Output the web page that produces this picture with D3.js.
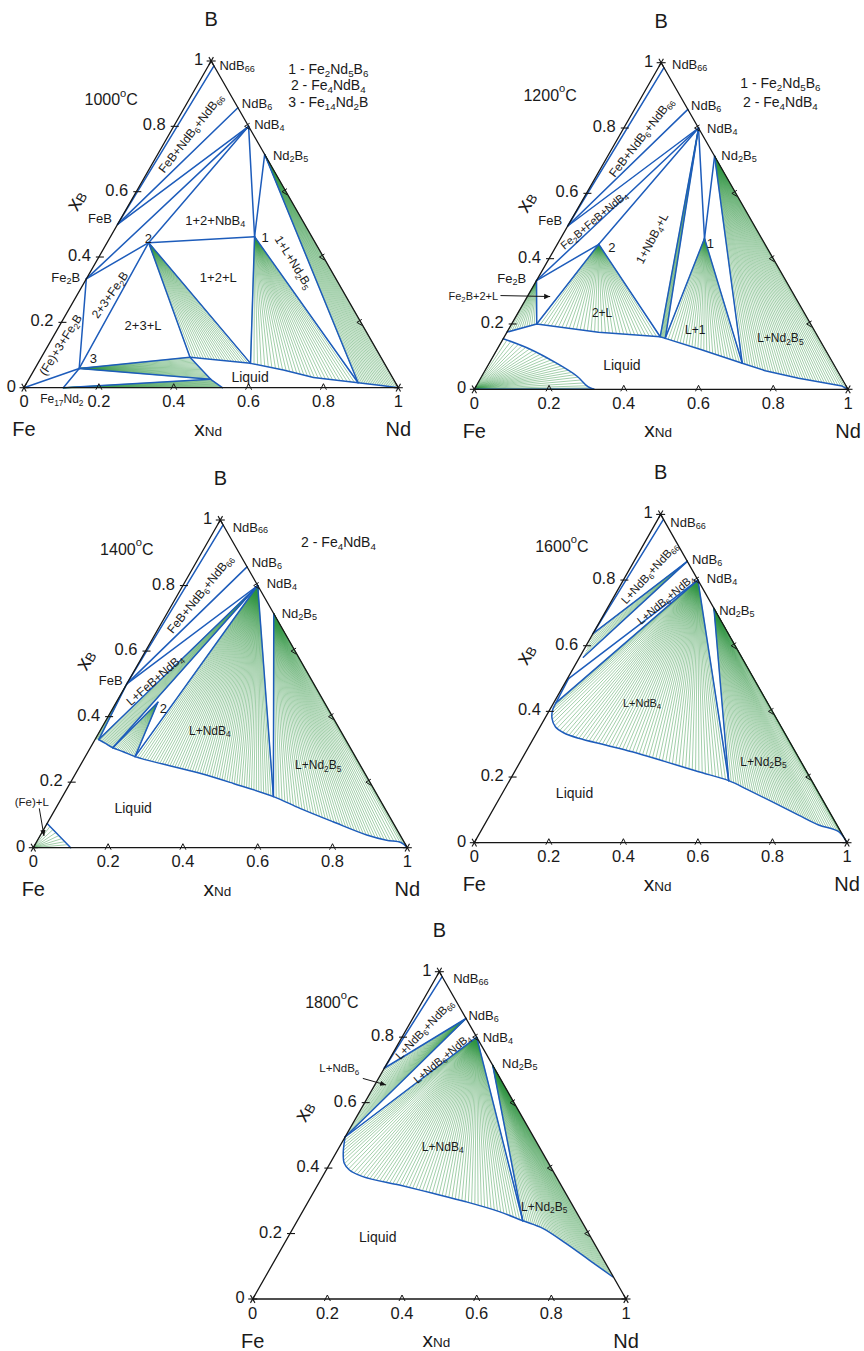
<!DOCTYPE html>
<html>
<head>
<meta charset="utf-8">
<title>Fe–Nd–B isothermal sections</title>
<script src="https://cdn.jsdelivr.net/npm/d3@7/dist/d3.min.js"></script>
<style>
  html, body { margin: 0; background: #fff; }
  svg { display: block; }
  text { font-family: "Liberation Sans", Arial, Helvetica, sans-serif; fill: #1a1a1a; }
</style>
</head>
<body>
<svg id="chart" width="864" height="1351"></svg>
<script>
// Compositions are [x_Nd, x_B]; x_Fe = 1 - x_Nd - x_B.
const compounds = {
  B: [0, 1], Fe: [0, 0], Nd: [1, 0],
  NdB66: [0.015, 0.985], NdB6: [0.143, 0.857], NdB4: [0.2, 0.8], Nd2B5: [0.286, 0.714],
  FeB: [0, 0.5], Fe2B: [0, 0.333], Fe17Nd2: [0.105, 0],
  T1: [0.385, 0.462],   // Fe2Nd5B6
  T2: [0.111, 0.444],   // Fe4NdB4
  T3: [0.118, 0.059]    // Fe14Nd2B
};
const axisTicks = [0, 0.2, 0.4, 0.6, 0.8, 1];
const axisTickLabels = ["0", "0.2", "0.4", "0.6", "0.8", "1"];

// ---------- 1000 °C ----------
const liquid1000 = { La: [0.397, 0.093], Lb: [0.568, 0.0745], Lc: [0.885, 0.0153], Ld: [0.486, 0.0256], Le: [0.53, 0] };
const curves1000 = {
  upper: ["La", "Lb", [0.666, 0.054], [0.758, 0.031], "Lc", [0.957, 0.006], "Nd"],
  lower: ["La", "Ld", "Le"]
};
const boundaries1000 = [
  ["NdB66", "FeB"], ["NdB6", "FeB"], ["NdB4", "FeB"], ["NdB4", "Fe2B"], ["NdB4", "T2"], ["T2", "Fe2B"],
  ["Fe2B", "T3"], ["T2", "T3"], ["T3", "Fe"], ["T3", "Fe17Nd2"], ["T2", "T1"], ["NdB4", "T1"],
  ["Nd2B5", "T1"], ["T1", "Lb"], ["T1", "Lc"], ["Nd2B5", "Lc"], ["T2", "La"], ["T2", "Lb"],
  ["T3", "La"], ["T3", "Ld"], ["Fe17Nd2", "Ld"]
];
const fans1000 = [
  ["T2", "upper", "La", "Lb", 22], ["T1", "upper", "Lb", "Lc", 30], ["Nd2B5", "upper", "Lc", "Nd", 22],
  ["T3", "lower", "La", "Ld", 18], ["Fe17Nd2", "lower", "Ld", "Le", 12]
];
const labels1000 = [
  ["NdB_66", 0.522, 0.987, "start", 0, 13], ["NdB_6", 0.582, 0.870, "start", 0, 13],
  ["NdB_4", 0.615, 0.806, "start", 0, 13], ["Nd_2B_5", 0.665, 0.712, "start", 0, 13],
  ["FeB", 0.235, 0.518, "end", 0, 13], ["Fe_2B", 0.150, 0.339, "end", 0, 13],
  ["2", 0.332, 0.457, "middle", 0, 13], ["1", 0.644, 0.462, "middle", 0, 13], ["3", 0.185, 0.090, "middle", 0, 13],
  ["FeB+NdB_6+NdB_66", 0.446, 0.779, "middle", -52, 12],
  ["1+2+NbB_4", 0.511, 0.513, "middle", 0, 13], ["1+2+L", 0.519, 0.339, "middle", 0, 13],
  ["2+3+Fe_2B", 0.230, 0.284, "middle", -55, 12], ["2+3+L", 0.318, 0.192, "middle", 0, 13],
  ["(Fe)+3+Fe_2B", 0.098, 0.131, "middle", -58, 12], ["1+L+Nd_2B_5", 0.720, 0.384, "middle", 58, 12],
  ["Liquid", 0.604, 0.034, "middle", 0, 14], ["Fe_17Nd_2", 0.101, -0.036, "middle", 0, 12],
  ["1000^oC", 0.233, 0.883, "middle", 0, 16],
  ["1 - Fe_2Nd_5B_6", 0.813, 0.977, "middle", 0, 14], ["2 - Fe_4NdB_4", 0.813, 0.926, "middle", 0, 14],
  ["3 - Fe_14Nd_2B", 0.813, 0.875, "middle", 0, 14]
];
const arrows1000 = [];

// ---------- 1200 °C ----------
const liquid1200 = {
  L0: [0, 0.175], L1: [0.067, 0.2], L2: [0.417, 0.161], L3: [0.433, 0.156], L4: [0.677, 0.08],
  S0: [0, 0.155], S1: [0.32, 0]
};
const curves1200 = {
  upper: ["L0", "L1", [0.245, 0.1745], "L2", "L3", [0.545, 0.122], "L4", [0.75, 0.057], [0.851, 0.034], [0.979, 0.010], "Nd"],
  lower: ["S0", [0.09, 0.122], [0.18, 0.08], [0.255, 0.04], [0.30, 0.008], "S1"]
};
const boundaries1200 = [
  ["NdB66", "FeB"], ["NdB6", "FeB"], ["NdB4", "FeB"], ["NdB4", "Fe2B"], ["NdB4", "T2"], ["T2", "Fe2B"],
  ["Fe2B", "L1"], ["T2", "L1"], ["T2", "L2"], ["NdB4", "L2"], ["NdB4", "L3"], ["NdB4", "T1"],
  ["Nd2B5", "T1"], ["T1", "L3"], ["T1", "L4"], ["Nd2B5", "L4"], ["Fe", "S1"]
];
const fans1200 = [
  ["Fe2B", "upper", "L0", "L1", 12], ["T2", "upper", "L1", "L2", 34], ["NdB4", "upper", "L2", "L3", 6],
  ["T1", "upper", "L3", "L4", 26], ["Nd2B5", "upper", "L4", "Nd", 40], ["Fe", "lower", "S0", "S1", 26]
];
const labels1200 = [
  ["NdB_66", 0.529, 0.995, "start", 0, 13], ["NdB_6", 0.580, 0.870, "start", 0, 13],
  ["NdB_4", 0.623, 0.801, "start", 0, 13], ["Nd_2B_5", 0.661, 0.717, "start", 0, 13],
  ["FeB", 0.235, 0.518, "end", 0, 13], ["Fe_2B", 0.139, 0.342, "end", 0, 13],
  ["Fe_2B+2+L", -0.069, 0.287, "start", 0, 11],
  ["FeB+NdB_6+NdB_66", 0.447, 0.771, "middle", -52, 12],
  ["Fe_2B+FeB+NdB_4", 0.320, 0.518, "middle", -40, 11],
  ["2", 0.368, 0.437, "middle", 0, 13], ["1", 0.632, 0.447, "middle", 0, 13],
  ["1+NbB_4+L", 0.476, 0.462, "middle", -62, 12],
  ["2+L", 0.342, 0.233, "middle", 0, 12], ["L+1", 0.591, 0.182, "middle", 0, 12],
  ["L+Nd_2B_5", 0.819, 0.156, "middle", 0, 12], ["Liquid", 0.395, 0.074, "middle", 0, 14],
  ["1200^oC", 0.203, 0.901, "middle", 0, 16],
  ["1 - Fe_2Nd_5B_6", 0.819, 0.937, "middle", 0, 14], ["2 - Fe_4NdB_4", 0.819, 0.881, "middle", 0, 14]
];
const arrows1200 = [[0.070, 0.287, 0.203, 0.284]];

// ---------- 1400 °C ----------
const liquid1400 = {
  E0: [0, 0.33], L0: [0.01, 0.33], La: [0.06, 0.305], Lb: [0.133, 0.278], Lc: [0.564, 0.156],
  F0: [0, 0.074], F1: [0.1, 0]
};
const curves1400 = {
  liquidus: ["L0", [0.032, 0.319], "La", [0.094, 0.293], "Lb", [0.332, 0.227], [0.437, 0.196], "Lc",
             [0.653, 0.12], [0.762, 0.079], [0.872, 0.039], [0.933, 0.023], [0.975, 0.016], "Nd"],
  solvus: ["F0", "F1"]
};
const boundaries1400 = [
  ["NdB66", "FeB"], ["NdB6", "FeB"], ["NdB4", "FeB"], ["FeB", "L0"], ["NdB4", "L0"], ["NdB4", "La"],
  ["T2", "La"], ["T2", "Lb"], ["NdB4", "Lb"], ["NdB4", "Lc"], ["Nd2B5", "Lc"]
];
const fans1400 = [
  ["FeB", null, "E0", "L0", 4], ["NdB4", "liquidus", "L0", "La", 14], ["T2", "liquidus", "La", "Lb", 14],
  ["NdB4", "liquidus", "Lb", "Lc", 56], ["Nd2B5", "liquidus", "Lc", "Nd", 46], ["Fe", "solvus", "F0", "F1", 8]
];
const labels1400 = [
  ["NdB_66", 0.533, 0.980, "start", 0, 13], ["NdB_6", 0.584, 0.873, "start", 0, 13],
  ["NdB_4", 0.624, 0.807, "start", 0, 13], ["Nd_2B_5", 0.664, 0.717, "start", 0, 13],
  ["FeB", 0.239, 0.512, "end", 0, 13],
  ["FeB+NdB_6+NdB_66", 0.446, 0.774, "middle", -51, 12],
  ["L+FeB+NdB_4", 0.325, 0.512, "middle", -41, 12],
  ["2", 0.348, 0.425, "middle", 0, 13],
  ["L+NdB_4", 0.472, 0.357, "middle", 0, 12], ["L+Nd_2B_5", 0.762, 0.252, "middle", 0, 12],
  ["Liquid", 0.267, 0.120, "middle", 0, 14], ["(Fe)+L", -0.004, 0.140, "middle", 0, 11.5],
  ["1400^oC", 0.250, 0.911, "middle", 0, 16], ["2 - Fe_4NdB_4", 0.816, 0.934, "middle", 0, 14]
];
const arrows1400 = [[0.016, 0.12, 0.0286, 0.036]];

// ---------- 1600 °C ----------
const liquid1600 = { E1: [0, 0.637], P1: [0.01, 0.565], P: [0.003, 0.5], P2: [0.006, 0.426], Lc: [0.588, 0.189] };
const curves1600 = {
  liquidus: ["P", "P2", [0.008, 0.404], [0.019, 0.379], [0.041, 0.353], [0.072, 0.335], [0.121, 0.318],
             [0.203, 0.2975], [0.285, 0.277], [0.389, 0.247], [0.494, 0.216], "Lc",
             [0.656, 0.16], [0.736, 0.125], [0.828, 0.084], [0.897, 0.054], [0.961, 0.0335], "Nd"]
};
const boundaries1600 = [
  ["NdB66", "E1"], ["NdB6", "E1"], ["NdB6", "P1"], ["NdB4", "P"], ["NdB4", "P2"], ["NdB4", "Lc"], ["Nd2B5", "Lc"]
];
const fans1600 = [
  ["NdB6", null, "E1", "P1", 8], ["NdB4", "liquidus", "P2", "Lc", 60], ["Nd2B5", "liquidus", "Lc", "Nd", 50]
];
const labels1600 = [
  ["NdB_66", 0.526, 0.978, "start", 0, 13], ["NdB_6", 0.584, 0.863, "start", 0, 13],
  ["NdB_4", 0.624, 0.805, "start", 0, 13], ["Nd_2B_5", 0.657, 0.709, "start", 0, 13],
  ["L+NdB_6+NdB_66", 0.470, 0.821, "middle", -48, 11.5],
  ["L+NdB_6+NdB_4", 0.513, 0.741, "middle", -40, 11],
  ["L+NdB_4", 0.450, 0.425, "middle", 0, 11], ["L+Nd_2B_5", 0.776, 0.247, "middle", 0, 12],
  ["Liquid", 0.269, 0.150, "middle", 0, 14], ["1600^oC", 0.235, 0.904, "middle", 0, 16]
];
const arrows1600 = [];

// ---------- 1800 °C ----------
const liquid1800 = { E1: [0, 0.705], P: [0, 0.495], Lc: [0.604, 0.239], R: [0.93, 0.068] };
const curves1800 = {
  liquidus: ["P", [0.02, 0.445], [0.038, 0.4145], [0.062, 0.394], [0.108, 0.374], [0.219, 0.348],
             [0.321, 0.323], [0.423, 0.297], [0.527, 0.267], "Lc", [0.669, 0.216], [0.754, 0.17], [0.842, 0.119], "R"]
};
const boundaries1800 = [
  ["NdB66", "E1"], ["NdB6", "E1"], ["NdB6", "P"], ["NdB4", "P"], ["NdB4", "Lc"], ["Nd2B5", "Lc"]
];
const fans1800 = [
  ["NdB6", null, "E1", "P", 22], ["NdB4", "liquidus", "P", "Lc", 64], ["Nd2B5", "liquidus", "Lc", "R", 46]
];
const labels1800 = [
  ["NdB_66", 0.537, 0.980, "start", 0, 13], ["NdB_6", 0.578, 0.868, "start", 0, 13],
  ["NdB_4", 0.616, 0.801, "start", 0, 13], ["Nd_2B_5", 0.668, 0.720, "start", 0, 13],
  ["L+NdB_6", 0.232, 0.705, "middle", 0, 11.5],
  ["L+NdB_6+NdB_66", 0.460, 0.824, "middle", -46, 11.5],
  ["L+NdB_6+NdB_4", 0.507, 0.735, "middle", -40, 11],
  ["L+NdB_4", 0.509, 0.465, "middle", 0, 12], ["L+Nd_2B_5", 0.781, 0.282, "middle", 0, 12],
  ["Liquid", 0.335, 0.190, "middle", 0, 14], ["1800^oC", 0.212, 0.908, "middle", 0, 16]
];
const arrows1800 = [[0.295, 0.674, 0.357, 0.654]];

// ---------- layout ----------
const BLUE = "#1d5cbb", GREEN = "#2f9440", INK = "#161616";
const sections = [
  { temp: "1000", frame: { x0: 24, y0: 387.7, w: 374.3, h: 326.7 }, liquid: liquid1000, curves: curves1000,
    straight: ["upper", "lower"], lines: boundaries1000, fans: fans1000, labels: labels1000, arrows: arrows1000 },
  { temp: "1200", frame: { x0: 474.3, y0: 389.3, w: 373.7, h: 326.6 }, liquid: liquid1200, curves: curves1200,
    straight: ["upper"], lines: boundaries1200, fans: fans1200, labels: labels1200, arrows: arrows1200 },
  { temp: "1400", frame: { x0: 33.3, y0: 847.7, w: 374, h: 327.7 }, liquid: liquid1400, curves: curves1400,
    straight: ["solvus"], lines: boundaries1400, fans: fans1400, labels: labels1400, arrows: arrows1400 },
  { temp: "1600", frame: { x0: 474.3, y0: 842.7, w: 372.7, h: 328.3 }, liquid: liquid1600, curves: curves1600,
    straight: [], lines: boundaries1600, fans: fans1600, labels: labels1600, arrows: arrows1600 },
  { temp: "1800", frame: { x0: 252.7, y0: 1299, w: 373.3, h: 327.3 }, liquid: liquid1800, curves: curves1800,
    straight: [], lines: boundaries1800, fans: fans1800, labels: labels1800, arrows: arrows1800 }
];

const svg = d3.select("#chart");
svg.append("rect").attr("width", 864).attr("height", 1351).attr("fill", "#fff");
svg.append("defs").append("marker")
  .attr("id", "arrowhead").attr("viewBox", "0 0 10 10").attr("refX", 10).attr("refY", 5)
  .attr("markerWidth", 6).attr("markerHeight", 6).attr("orient", "auto")
  .append("path").attr("d", "M0,0.5L10,5L0,9.5Z").attr("fill", INK);

// Text with chemical subscripts (_66) and a superscript (^o)
function richText(sel, str, size) {
  const re = /_(\d+)|\^(\w)/g;
  const parts = [];
  let last = 0, m;
  while ((m = re.exec(str))) {
    if (m.index > last) parts.push([str.slice(last, m.index), 0]);
    parts.push(m[1] ? [m[1], 1] : [m[2], -1]);
    last = re.lastIndex;
  }
  if (last < str.length) parts.push([str.slice(last), 0]);
  let shift = 0;
  parts.forEach(([t, k]) => {
    const target = k === 1 ? size * 0.3 : k === -1 ? -size * 0.42 : 0;
    sel.append("tspan").attr("dy", (target - shift).toFixed(2))
      .attr("font-size", k ? size * 0.7 : size).text(t);
    shift = target;
  });
}

function drawSection(sec) {
  const f = sec.frame;
  const ux = d3.scaleLinear().domain([0, 1]).range([f.x0, f.x0 + f.w]);
  const vy = d3.scaleLinear().domain([0, 1]).range([f.y0, f.y0 - f.h]);
  const comp = p => Array.isArray(p) ? p : (sec.liquid[p] || compounds[p]);
  const xy = p => { const [n, b] = comp(p); return [ux(n + b / 2), vy(b)]; };

  const g = svg.append("g").attr("class", "section-" + sec.temp);
  const gFan = g.append("g").attr("stroke", GREEN).attr("stroke-width", 0.45);
  const gBound = g.append("g").attr("stroke", BLUE).attr("stroke-width", 1.5)
    .attr("fill", "none").attr("stroke-linecap", "round").attr("stroke-linejoin", "round");
  const gFrame = g.append("g").attr("stroke", INK).attr("fill", "none").attr("stroke-width", 1.3);
  const gText = g.append("g");

  // liquid / solvus curves, sampled so tie lines can end on them
  const curveInfo = {};
  Object.entries(sec.curves).forEach(([name, pts]) => {
    const gen = d3.line().curve(sec.straight.includes(name) ? d3.curveLinear : d3.curveCatmullRom.alpha(0.5));
    const node = gBound.append("path").attr("d", gen(pts.map(xy))).node();
    const total = node.getTotalLength();
    const samples = d3.range(0, total, 0.25).concat([total])
      .map(s => { const q = node.getPointAtLength(s); return [s, q.x, q.y]; });
    curveInfo[name] = {
      point: s => node.getPointAtLength(s),
      lengthAt: p => { const [x, y] = xy(p); return d3.least(samples, s => (s[1] - x) ** 2 + (s[2] - y) ** 2)[0]; }
    };
  });

  // tie-line fans of the two-phase regions
  sec.fans.forEach(([from, curve, a, b, n]) => {
    const [fx, fy] = xy(from);
    let ends;
    if (curve) {
      const c = curveInfo[curve];
      const s0 = c.lengthAt(a), s1 = c.lengthAt(b);
      ends = d3.range(n + 1).map(k => { const q = c.point(s0 + (s1 - s0) * k / n); return [q.x, q.y]; });
    } else {
      const [ax, ay] = xy(a), [bx, by] = xy(b);
      ends = d3.range(n + 1).map(k => [ax + (bx - ax) * k / n, ay + (by - ay) * k / n]);
    }
    gFan.selectAll(null).data(ends).join("line")
      .attr("x1", fx).attr("y1", fy).attr("x2", e => e[0]).attr("y2", e => e[1]);
  });

  // phase boundaries and tie triangles
  gBound.selectAll(null).data(sec.lines).join("line")
    .attr("x1", d => xy(d[0])[0]).attr("y1", d => xy(d[0])[1])
    .attr("x2", d => xy(d[1])[0]).attr("y2", d => xy(d[1])[1]);

  // triangle frame, ticks and corner marks
  gFrame.append("path").attr("d", d3.line()([xy("Fe"), xy("Nd"), xy("B")]) + "Z");
  axisTicks.slice(1, -1).forEach(t => {
    const [bx, by] = xy([t, 0]);
    gFrame.append("path").attr("d", `M${bx - 3},${by + 2}L${bx},${by - 4}L${bx + 3},${by + 2}`).attr("stroke-width", 1);
    const [lx, ly] = xy([0, t]);
    gFrame.append("path").attr("d", `M${lx - 3},${ly}H${lx + 5}`).attr("stroke-width", 1.1);
    const [rx, ry] = xy([1 - t, t]);
    gFrame.append("path").attr("d", `M${rx + 1},${ry - 3}L${rx - 4},${ry}L${rx + 1},${ry + 3}`).attr("stroke-width", 1);
  });
  ["Fe", "Nd", "B"].forEach(c => {
    const [cx, cy] = xy(c);
    [0, 60, 120].forEach(a => {
      const r = a * Math.PI / 180, dx = 4.5 * Math.cos(r), dy = 4.5 * Math.sin(r);
      gFrame.append("line").attr("x1", cx - dx).attr("y1", cy - dy).attr("x2", cx + dx).attr("y2", cy + dy).attr("stroke-width", 1.1);
    });
  });

  // axis numbers
  axisTicks.forEach((t, i) => {
    const [bx] = xy([t, 0]);
    gText.append("text").attr("x", bx).attr("y", f.y0 + 19.5).attr("text-anchor", "middle")
      .attr("font-size", 16.5).text(axisTickLabels[i]);
    const [lx, ly] = xy([0, t]);
    gText.append("text").attr("x", lx - 8).attr("y", ly + 4).attr("text-anchor", "end")
      .attr("font-size", 16.5).text(axisTickLabels[i]);
  });

  // component names and axis titles
  gText.append("text").attr("x", ux(0.5)).attr("y", vy(1) - 35).attr("text-anchor", "middle").attr("font-size", 20).text("B");
  gText.append("text").attr("x", ux(0)).attr("y", f.y0 + 48.5).attr("text-anchor", "middle").attr("font-size", 20).text("Fe");
  gText.append("text").attr("x", ux(1)).attr("y", f.y0 + 48.5).attr("text-anchor", "middle").attr("font-size", 20).text("Nd");
  const xNd = gText.append("text").attr("x", ux(0.5) - 3).attr("y", f.y0 + 48).attr("text-anchor", "middle");
  xNd.append("tspan").attr("font-size", 21).text("x");
  xNd.append("tspan").attr("font-size", 13.5).text("Nd");
  const [ex, ey] = xy([0, 0.575]);
  const xB = gText.append("text").attr("transform", `translate(${ex - 56.5},${ey}) rotate(-60)`)
    .attr("text-anchor", "middle").attr("dominant-baseline", "central");
  xB.append("tspan").attr("font-size", 21).text("x");
  xB.append("tspan").attr("font-size", 13.5).attr("dy", 4).text("B");

  // phase and region labels
  sec.labels.forEach(([txt, lu, lv, anchor, angle, size]) => {
    const t = gText.append("text")
      .attr("transform", `translate(${ux(lu)},${vy(lv)}) rotate(${angle})`)
      .attr("text-anchor", anchor).attr("dominant-baseline", "central").attr("font-size", size);
    richText(t, txt, size);
  });
  sec.arrows.forEach(([u1, v1, u2, v2]) => {
    gText.append("line").attr("x1", ux(u1)).attr("y1", vy(v1)).attr("x2", ux(u2)).attr("y2", vy(v2))
      .attr("stroke", INK).attr("stroke-width", 1).attr("marker-end", "url(#arrowhead)");
  });
}

sections.forEach(drawSection);
</script>
</body>
</html>
